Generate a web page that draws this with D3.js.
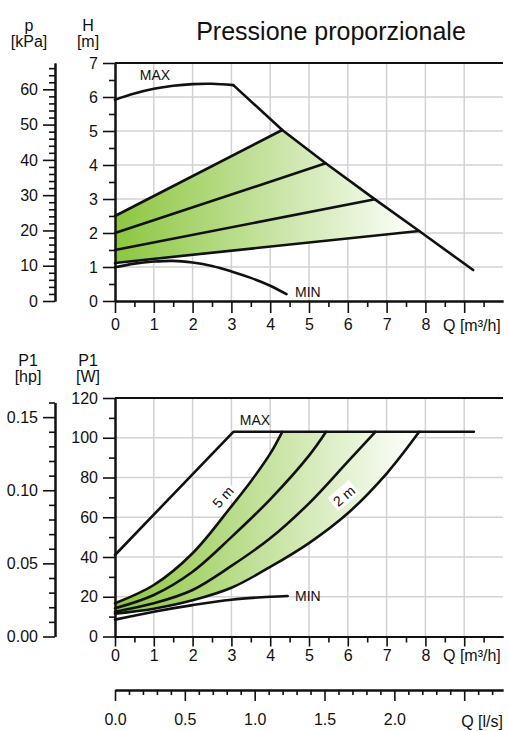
<!DOCTYPE html>
<html><head><meta charset="utf-8">
<script src="https://cdn.jsdelivr.net/npm/d3@7"></script>
<style>
body{margin:0;background:#fff}
text{font-family:"Liberation Sans",Arial,Helvetica,sans-serif;fill:#111}
</style>
</head><body>
<svg id="c" width="509" height="731"></svg>
<script>
// ---------- data ----------
const qTicks = [0,1,2,3,4,5,6,7,8,9];
const hTicks = [0,1,2,3,4,5,6,7];
const kpaTicks = [0,10,20,30,40,50,60];
const wTicks = [0,20,40,60,80,100,120];
const hpTicks = [0,0.05,0.10,0.15];
const lsTicks = [0,0.5,1.0,1.5,2.0,2.5];

// top chart: head curves (Q m3/h, H m)
const maxRiseQ = [0,0.5,1,1.5,2,2.5,3.05];
const maxRiseH = [5.92,6.1,6.24,6.33,6.38,6.39,6.35];
const maxFallQ = [3.05,4.31,5.43,6.7,7.84,9.23];
const maxFallH = [6.35,5.03,4.05,2.99,2.06,0.91];
const propH0   = [2.5,2.0,1.5,1.12];
const propEndQ = [4.31,5.43,6.7,7.84];
const propEndH = [5.03,4.05,2.99,2.06];
const minQ = [0,0.5,1,1.5,2,2.5,3,3.5,4,4.42];
const minH = [0.99,1.1,1.16,1.18,1.13,1.03,0.87,0.68,0.45,0.2];

// bottom chart: power curves (Q m3/h, P1 W)
const pMaxQ = [0,3.05,9.25];
const pMaxW = [41,103,103];
const p5Q = [0,1,2,3,3.5,4,4.31];
const p5W = [16.7,25.9,41.9,65.5,78,92,103];
const p4Q = [0,1,2,3,4,5,5.44];
const p4W = [14.2,20.9,32.6,50,69,91,103];
const p3Q = [0,1,2,3,4,5,6,6.71];
const p3W = [12.5,16.7,23.4,35.5,49.4,67,88,103];
const p2Q = [0,1,2,3,4,5,6,7,7.84];
const p2W = [11.5,14,18.2,24.5,35,47,62,82,103];
const pMinQ = [0,1,2,3,4,4.45];
const pMinW = [8.5,12.5,15.8,18.5,20,20.4];

// ---------- scales ----------
const svg = d3.select("#c");
const x = d3.scaleLinear().domain([0,10]).range([115,503]);
const yH = d3.scaleLinear().domain([0,7]).range([301,63]);
const yK = d3.scaleLinear().domain([0,67.46]).range([301,63]);
const yW = d3.scaleLinear().domain([0,120]).range([636.5,398]);
const yHp = d3.scaleLinear().domain([0,0.16]).range([636.5,402.5]);
const xLs = d3.scaleLinear().domain([0,10/3.6]).range([115,503]);

const GRID="#d2d2d2";
const zip=(a,b)=>a.map((v,i)=>[v,b[i]]);

const defs = svg.append("defs");
function grad(id){
  const g = defs.append("linearGradient").attr("id",id).attr("gradientUnits","userSpaceOnUse")
    .attr("x1",x(0)).attr("x2",x(7.84)).attr("y1",0).attr("y2",0);
  g.append("stop").attr("offset",0).attr("stop-color","#8cc63f");
  g.append("stop").attr("offset",1).attr("stop-color","#ffffff");
}
grad("g1"); grad("g2");

// ---------- title & unit labels ----------
svg.append("text").attr("x",331).attr("y",40).attr("text-anchor","middle")
  .style("font-size","25px").text("Pressione proporzionale");
function unit(cx,y1,t1,t2){
  svg.append("text").attr("x",cx).attr("y",y1).attr("text-anchor","middle").style("font-size","16px").text(t1);
  svg.append("text").attr("x",cx).attr("y",y1+16).attr("text-anchor","middle").style("font-size","16px").text(t2);
}
unit(29,31,"p","[kPa]");
unit(88,31,"H","[m]");
unit(28,366,"P1","[hp]");
unit(88,366,"P1","[W]");

function styleAxis(g,fs){
  g.selectAll(".domain").attr("stroke","#111").attr("stroke-width",2);
  g.selectAll(".tick line").attr("stroke","#111").attr("stroke-width",1.6);
  g.selectAll("text").style("font-size",(fs||16)+"px").attr("fill","#111")
    .style("font-family","'Liberation Sans',Arial,sans-serif");
}
function range(a,b,s){const r=[];for(let v=a;v<=b+1e-9;v+=s)r.push(+v.toFixed(4));return r;}
const fInt = d3.format("d");

// ---------- TOP CHART ----------
const gTop = svg.append("g");
gTop.selectAll(".vg").data(qTicks.slice(1)).join("line")
  .attr("x1",d=>x(d)).attr("x2",d=>x(d)).attr("y1",yH(0)).attr("y2",yH(7))
  .attr("stroke",GRID).attr("stroke-width",1.5);
gTop.selectAll(".hg").data(hTicks.slice(1,-1)).join("line")
  .attr("x1",x(0)).attr("x2",x(10)).attr("y1",d=>yH(d)).attr("y2",d=>yH(d))
  .attr("stroke",GRID).attr("stroke-width",1.5);

const fallPts = zip(maxFallQ,maxFallH).filter(p=>p[0]>propEndQ[0]+1e-6 && p[0]<propEndQ[3]-1e-6);
const poly = [[0,propH0[0]],[propEndQ[0],propEndH[0]],...fallPts,[propEndQ[3],propEndH[3]],[0,propH0[3]]];
const lineH = d3.line().x(d=>x(d[0])).y(d=>yH(d[1]));
gTop.append("path").attr("d",lineH(poly)+"Z").attr("fill","url(#g1)");

const cs = {fill:"none",stroke:"#111","stroke-width":2.6,"stroke-linejoin":"round","stroke-linecap":"round"};
function styled(p){Object.entries(cs).forEach(([k,v])=>p.attr(k,v));return p;}
const lineHc = d3.line().x(d=>x(d[0])).y(d=>yH(d[1])).curve(d3.curveCatmullRom);
styled(gTop.append("path").attr("d",lineHc(zip(maxRiseQ,maxRiseH))));
styled(gTop.append("path").attr("d",lineH(zip(maxFallQ,maxFallH))));
propH0.forEach((h,i)=>{
  styled(gTop.append("path").attr("d",lineH([[0,h],[propEndQ[i],propEndH[i]]])));
});
styled(gTop.append("path").attr("d",lineHc(zip(minQ,minH))));

gTop.append("text").attr("x",155).attr("y",80).attr("text-anchor","middle").style("font-size","14px").text("MAX");
gTop.append("text").attr("x",295).attr("y",297).style("font-size","14px").text("MIN");

gTop.append("line").attr("x1",x(0)).attr("x2",x(10)).attr("y1",yH(7)).attr("y2",yH(7)).attr("stroke","#111").attr("stroke-width",2);

let g;
g = gTop.append("g").attr("transform",`translate(${x(0)},0)`)
  .call(d3.axisLeft(yH).tickValues(range(0.5,6.5,1)).tickSize(6).tickFormat("").tickSizeOuter(0));
styleAxis(g);
g = gTop.append("g").attr("transform",`translate(${x(0)},0)`)
  .call(d3.axisLeft(yH).tickValues(hTicks).tickSize(12).tickPadding(5).tickFormat(fInt).tickSizeOuter(0));
styleAxis(g);
g = gTop.append("g").attr("transform",`translate(0,${yH(0)})`)
  .call(d3.axisBottom(x).tickValues(range(0.5,9.5,1)).tickSize(6).tickFormat("").tickSizeOuter(0));
styleAxis(g);
g = gTop.append("g").attr("transform",`translate(0,${yH(0)})`)
  .call(d3.axisBottom(x).tickValues(qTicks).tickSize(12).tickPadding(6).tickFormat(d=>d<=8?fInt(d):"").tickSizeOuter(0));
styleAxis(g);
gTop.append("text").attr("x",443).attr("y",331).style("font-size","16px").text("Q [m³/h]");

g = gTop.append("g").attr("transform","translate(55,0)")
  .call(d3.axisLeft(yK).tickValues(range(2,66,2).filter(v=>v%10!==0)).tickSize(6).tickFormat("").tickSizeOuter(0));
styleAxis(g);
g = gTop.append("g").attr("transform","translate(55,0)")
  .call(d3.axisLeft(yK).tickValues(kpaTicks).tickSize(12).tickPadding(5).tickFormat(fInt).tickSizeOuter(0));
styleAxis(g);

// ---------- BOTTOM CHART ----------
const gBot = svg.append("g");
gBot.selectAll(".vg").data(qTicks.slice(1)).join("line")
  .attr("x1",d=>x(d)).attr("x2",d=>x(d)).attr("y1",yW(0)).attr("y2",yW(120))
  .attr("stroke",GRID).attr("stroke-width",1.5);
gBot.selectAll(".hg").data(wTicks.slice(1,-1)).join("line")
  .attr("x1",x(0)).attr("x2",x(10)).attr("y1",d=>yW(d)).attr("y2",d=>yW(d))
  .attr("stroke",GRID).attr("stroke-width",1.5);

const lineW = d3.line().x(d=>x(d[0])).y(d=>yW(d[1])).curve(d3.curveCatmullRom);
const upPath = lineW(zip(p5Q,p5W));
const downPath = lineW(zip(p2Q,p2W).reverse()).replace(/^M/,"L");
gBot.append("path").attr("d",upPath+downPath+"Z").attr("fill","url(#g2)");

[zip(p5Q,p5W),zip(p4Q,p4W),zip(p3Q,p3W),zip(p2Q,p2W),zip(pMinQ,pMinW)].forEach(pts=>{
  styled(gBot.append("path").attr("d",lineW(pts)));
});
styled(gBot.append("path").attr("d",d3.line().x(d=>x(d[0])).y(d=>yW(d[1]))(zip(pMaxQ,pMaxW))));

gBot.append("text").attr("x",255).attr("y",425).attr("text-anchor","middle").style("font-size","14px").text("MAX");
gBot.append("text").attr("x",295).attr("y",601).style("font-size","14px").text("MIN");

function curveLabel(cx,cy,ang,t){
  const gg = gBot.append("g").attr("transform",`translate(${cx},${cy}) rotate(${ang})`);
  gg.append("rect").attr("x",-14).attr("y",-9).attr("width",28).attr("height",17).attr("fill","#fff");
  gg.append("text").attr("text-anchor","middle").attr("dy","0.35em").style("font-size","14px").text(t);
}
curveLabel(223,497,-48,"5 m");
curveLabel(344,496,-40,"2 m");

gBot.append("line").attr("x1",x(0)).attr("x2",x(10)).attr("y1",yW(120)).attr("y2",yW(120)).attr("stroke","#111").attr("stroke-width",2);

g = gBot.append("g").attr("transform",`translate(${x(0)},0)`)
  .call(d3.axisLeft(yW).tickValues(range(10,110,20)).tickSize(6).tickFormat("").tickSizeOuter(0));
styleAxis(g);
g = gBot.append("g").attr("transform",`translate(${x(0)},0)`)
  .call(d3.axisLeft(yW).tickValues(wTicks).tickSize(12).tickPadding(5).tickFormat(fInt).tickSizeOuter(0));
styleAxis(g);
g = gBot.append("g").attr("transform",`translate(0,${yW(0)})`)
  .call(d3.axisBottom(x).tickValues(range(0.5,9.5,1)).tickSize(6).tickFormat("").tickSizeOuter(0));
styleAxis(g);
g = gBot.append("g").attr("transform",`translate(0,${yW(0)})`)
  .call(d3.axisBottom(x).tickValues(qTicks).tickSize(10).tickPadding(3).tickFormat(d=>d<=8?fInt(d):"").tickSizeOuter(0));
styleAxis(g);
gBot.append("text").attr("x",443).attr("y",661).style("font-size","16px").text("Q [m³/h]");

g = gBot.append("g").attr("transform","translate(55,0)")
  .call(d3.axisLeft(yHp).tickValues(range(0.01,0.16,0.01).filter(v=>Math.round(v*100)%5!==0)).tickSize(6).tickFormat("").tickSizeOuter(0));
styleAxis(g);
g = gBot.append("g").attr("transform","translate(55,0)")
  .call(d3.axisLeft(yHp).tickValues(hpTicks).tickSize(12).tickPadding(5).tickFormat(d3.format(".2f")).tickSizeOuter(0));
styleAxis(g);

g = gBot.append("g").attr("transform","translate(0,690)")
  .call(d3.axisBottom(xLs).tickValues(range(0.1,2.7,0.1).filter(v=>Math.round(v*10)%5!==0)).tickSize(5).tickFormat("").tickSizeOuter(0));
styleAxis(g);
g = gBot.append("g").attr("transform","translate(0,690)")
  .call(d3.axisBottom(xLs).tickValues(lsTicks).tickSize(11).tickPadding(13).tickFormat(d=>d<=2?d3.format(".1f")(d):"").tickSizeOuter(0));
styleAxis(g);
gBot.append("text").attr("x",503).attr("y",727).attr("text-anchor","end").style("font-size","16px").text("Q [l/s]");
</script>
</body></html>
